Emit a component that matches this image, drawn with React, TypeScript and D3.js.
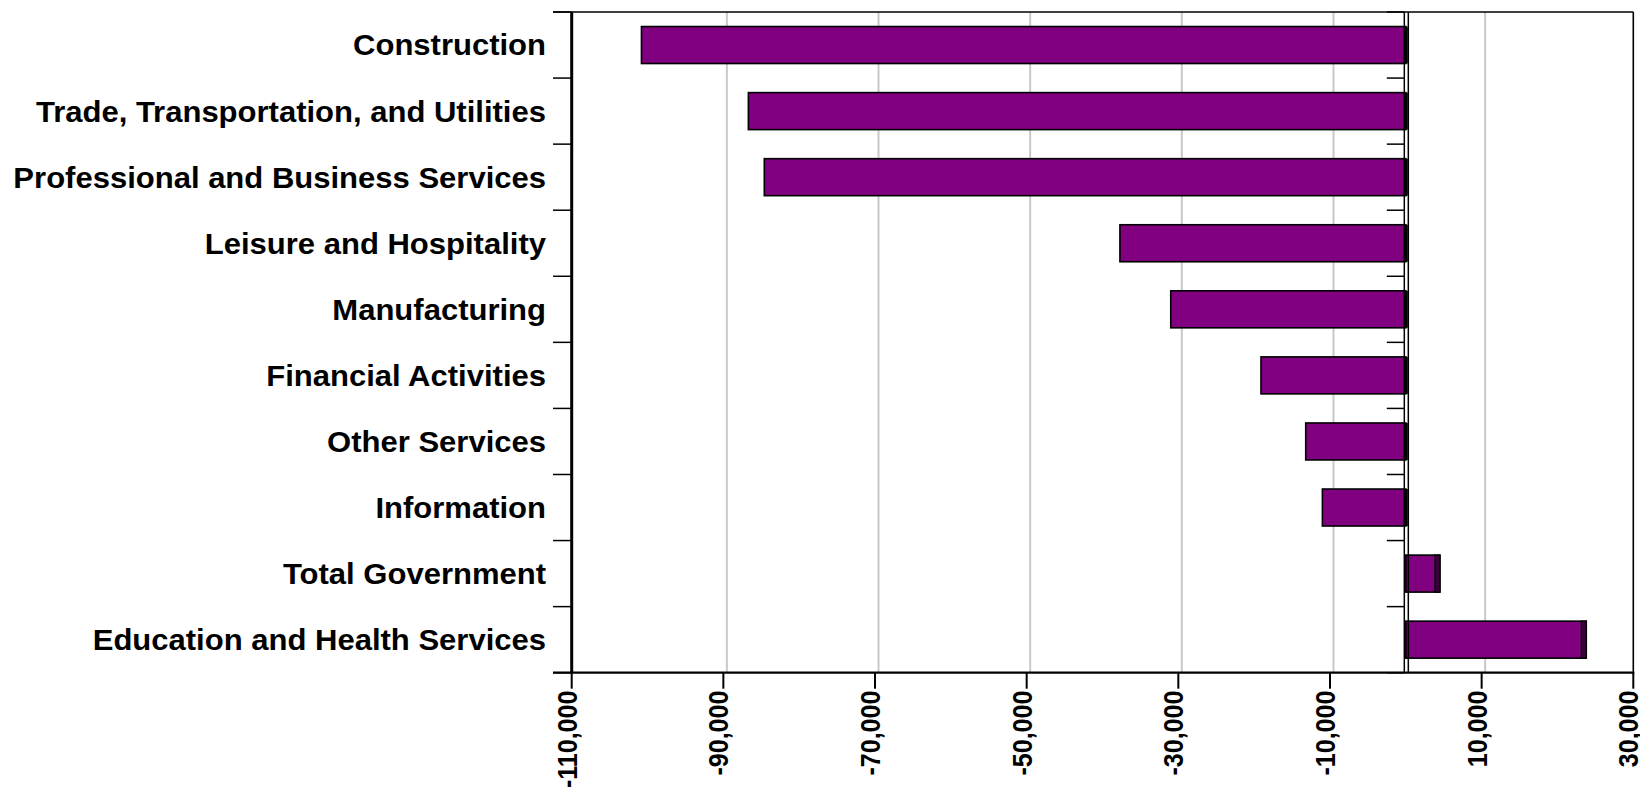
import React from "react";
import * as d3 from "d3";

const categories = [
  "Construction",
  "Trade, Transportation, and Utilities",
  "Professional and Business Services",
  "Leisure and Hospitality",
  "Manufacturing",
  "Financial Activities",
  "Other Services",
  "Information",
  "Total Government",
  "Education and Health Services",
];
const values = [-100800, -86700, -84600, -37700, -31000, -19100, -13200, -11000, 4500, 23800];
const xTicks = [-110000, -90000, -70000, -50000, -30000, -10000, 10000, 30000];
const gridTicks = [-90000, -70000, -50000, -30000, -10000, 10000];

const W = 1640;
const H = 794;
const left = 571.7;
const right = 1633.3;
const top = 12;
const bottom = 672.7;

export default function App() {
  const x = d3.scaleLinear().domain([-110000, 30000]).range([left, right]);
  const y = d3
    .scaleBand<string>()
    .domain(categories)
    .range([top, bottom])
    .paddingInner(0.44)
    .paddingOuter(0.22);
  const step = y.step();
  const fmt = (v: number) => d3.format(",")(v).replace("\u2212", "-");
  const x0 = x(0);
  const font = "'Liberation Sans', Arial, Helvetica, sans-serif";
  const boundaries = d3.range(categories.length + 1).map((i) => top + i * step);
  const sx = 1.07;

  return (
    <svg
      width={W}
      height={H}
      style={{ position: "absolute", left: 0, top: 0, background: "#fff" }}
      fontFamily={font}
    >
      {/* gridlines */}
      {gridTicks.map((t) => (
        <line key={"g" + t} x1={x(t) + 3.5} x2={x(t) + 3.5} y1={top} y2={bottom} stroke="#c8c8c8" strokeWidth={2} />
      ))}
      {/* frame */}
      <line x1={553} x2={right} y1={top} y2={top} stroke="#000" strokeWidth={1.5} />
      <line x1={right} x2={right} y1={top} y2={bottom} stroke="#000" strokeWidth={1.6} />
      {/* bars */}
      {categories.map((c, i) => {
        const v = values[i];
        const bx = Math.min(x(v), x0);
        const bw = Math.abs(x(v) - x0);
        const by = y(c) as number;
        const bh = y.bandwidth();
        return (
          <g key={c}>
            <rect x={bx} y={by} width={bw} height={bh} fill="#800080" stroke="#000" strokeWidth={1.6} />
            {v > 0 && (
              <rect x={x(v) - 5} y={by} width={5} height={bh} fill="#3a003a" stroke="#000" strokeWidth={1.2} />
            )}
            {v < 0 && (
              <rect x={x0 - 2} y={by} width={4} height={bh} fill="#000" />
            )}
          </g>
        );
      })}
      {/* zero axis (double line) with ticks */}
      <line x1={x0 - 1.5} x2={x0 - 1.5} y1={top} y2={bottom} stroke="#000" strokeWidth={1.5} />
      <line x1={x0 + 2.5} x2={x0 + 2.5} y1={top} y2={bottom} stroke="#000" strokeWidth={1.5} />
      {boundaries.map((b, i) => (
        <line key={"zt" + i} x1={x0 - 19} x2={x0 - 1.5} y1={b} y2={b} stroke="#000" strokeWidth={1.5} />
      ))}
      {/* left axis */}
      <line x1={left} x2={left} y1={top} y2={bottom} stroke="#000" strokeWidth={3} />
      {boundaries.map((b, i) => (
        <line key={"lt" + i} x1={553} x2={left} y1={b} y2={b} stroke="#000" strokeWidth={1.5} />
      ))}
      {/* bottom axis */}
      <line x1={553} x2={right + 1} y1={bottom} y2={bottom} stroke="#000" strokeWidth={2.2} />
      {xTicks.map((t) => (
        <g key={"xt" + t}>
          <line x1={x(t)} x2={x(t)} y1={bottom} y2={bottom + 16} stroke="#000" strokeWidth={2} />
          <text
            transform={`translate(${x(t) + 5},${bottom + 18}) rotate(-90) scale(1,1.1)`}
            textAnchor="end"
            fontSize={25}
            fontWeight="bold"
            fill="#000"
          >
            {fmt(t)}
          </text>
        </g>
      ))}
      {/* category labels */}
      {categories.map((c) => (
        <text
          key={"l" + c}
          transform={`translate(546,${(y(c) as number) + y.bandwidth() / 2}) scale(${sx},1)`}
          dy="0.36em"
          textAnchor="end"
          fontSize={29}
          fontWeight="bold"
          fill="#000"
        >
          {c}
        </text>
      ))}
    </svg>
  );
}
